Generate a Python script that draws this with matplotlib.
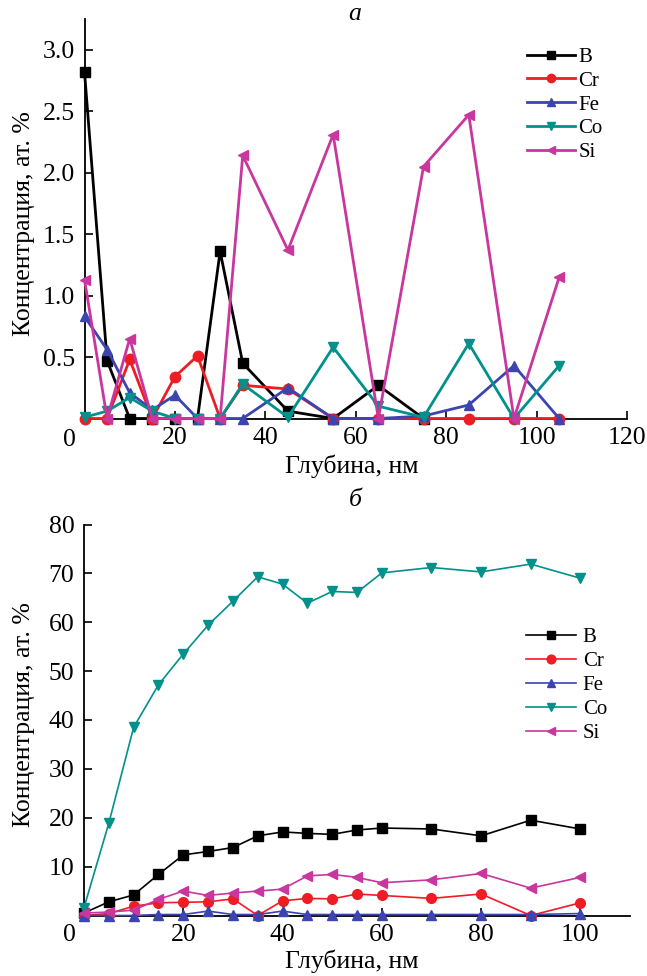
import matplotlib
matplotlib.use("Agg")
import matplotlib.pyplot as plt

plt.rcParams['font.family'] = ['Liberation Serif', 'DejaVu Serif']

# ---- panel a ----
x_a = [0, 5, 10, 15, 20, 25, 30, 35, 45, 55, 65, 75, 85, 95, 105]
x_a_B = [0, 5, 10, 15, 20, 25, 30, 35, 45, 55, 65, 75]
B_a = [2.82, 0.47, 0, 0, 0, 0, 1.36, 0.45, 0.06, 0, 0.27, 0]
Cr_a = [0, 0, 0.48, 0, 0.34, 0.51, 0, 0.27, 0.24, 0, 0, 0, 0, 0, 0]
Fe_a = [0.83, 0.56, 0.21, 0.07, 0.19, 0, 0, 0, 0.25, 0, 0, 0.02, 0.11, 0.43, 0]
Co_a = [0.01, 0.06, 0.17, 0.06, 0, 0, 0, 0.28, 0.01, 0.58, 0.10, 0.01, 0.61, 0, 0.43]
Si_a = [1.13, 0, 0.65, 0, 0, 0, 0, 2.14, 1.37, 2.31, 0, 2.05, 2.47, 0, 1.15]

# ---- panel b ----
x_b = [0, 5, 10, 15, 20, 25, 30, 35, 40, 45, 50, 55, 60, 70, 80, 90, 100]
B_b = [0.5, 2.8, 4.2, 8.4, 12.4, 13.1, 13.9, 16.3, 17.1, 16.8, 16.6, 17.5, 17.9, 17.7, 16.3, 19.5, 17.7]
Cr_b = [0, 0.4, 1.9, 2.6, 2.7, 2.8, 3.4, 0, 3.0, 3.5, 3.4, 4.4, 4.1, 3.5, 4.4, 0, 2.6]
Fe_b = [0, 0, 0, 0.2, 0.2, 0.9, 0.2, 0.2, 0.9, 0.2, 0.2, 0.2, 0.2, 0.2, 0.2, 0.2, 0.4]
Co_b = [1.6, 18.9, 38.5, 47.2, 53.5, 59.4, 64.3, 69.3, 67.8, 63.9, 66.3, 66.1, 70.1, 71.2, 70.3, 71.9, 69.0]
Si_b = [0.5, 0.7, 1.1, 3.3, 5.0, 4.1, 4.6, 5.0, 5.4, 8.1, 8.4, 7.8, 6.7, 7.3, 8.6, 5.6, 7.8]

labels = ['B', 'Cr', 'Fe', 'Co', 'Si']
colors = ['#000000', '#ee1c24', '#3c44b0', '#00918c', '#c8369e']
markers = ['s', 'o', '^', 'v', '<']

xticks_a = [0, 20, 40, 60, 80, 100, 120]
yticks_a = [0.5, 1.0, 1.5, 2.0, 2.5, 3.0]
xticks_b = [0, 20, 40, 60, 80, 100]
yticks_b = [10, 20, 30, 40, 50, 60, 70, 80]

W, H = 647, 976
fig = plt.figure(figsize=(W / 100, H / 100), dpi=100)

ax1 = fig.add_axes([84.5 / W, 1 - 418.5 / H, (627 - 84.5) / W, (418.5 - 19) / H])
ax2 = fig.add_axes([84 / W, 1 - 915.5 / H, (630 - 84) / W, (915.5 - 524.5) / H])

TICK_FS = 18.5
LAB_FS = 18.5

def style(ax, xt, yt, xlim, ylim, xfmt):
    ax.set_xlim(*xlim)
    ax.set_ylim(*ylim)
    for s in ['top', 'right']:
        ax.spines[s].set_visible(False)
    for s in ['left', 'bottom']:
        ax.spines[s].set_linewidth(1.3)
    ax.set_xticks(xt)
    ax.set_xticklabels([''] + [xfmt(v) for v in xt[1:]])
    ax.set_yticks(yt)
    ax.tick_params(direction='in', length=6, width=1.2, labelsize=TICK_FS)
    ax.tick_params(axis='x', pad=6)
    ax.tick_params(axis='y', pad=7)

# panel a
ys_a = [B_a, Cr_a, Fe_a, Co_a, Si_a]
for i, (lab, y) in enumerate(zip(labels, ys_a)):
    xx = x_a_B if lab == 'B' else x_a
    ax1.plot(xx, y, color=colors[i], marker=markers[i], lw=2.0, ms=7.5,
             label=lab, clip_on=False, zorder=3 + i)
style(ax1, xticks_a, yticks_a, (0, 120), (0, 3.25), lambda v: f'{v:d}')
ax1.set_yticklabels([f'{v:.1f}' for v in yticks_a])
leg1 = ax1.legend(loc='upper left', bbox_to_anchor=(517 / W, 1 - 37 / H),
                  bbox_transform=fig.transFigure, frameon=False, fontsize=15,
                  handlelength=2.3, handletextpad=0.15, labelspacing=0.2,
                  borderpad=0, markerscale=0.8)

# panel b
ys_b = [B_b, Cr_b, Fe_b, Co_b, Si_b]
for i, (lab, y) in enumerate(zip(labels, ys_b)):
    ax2.plot(x_b, y, color=colors[i], marker=markers[i], lw=1.2, ms=7,
             label=lab, clip_on=False, zorder=3 + i)
style(ax2, xticks_b, yticks_b, (0, 110), (0, 80), lambda v: f'{v:d}')
leg2 = ax2.legend(loc='upper left', bbox_to_anchor=(516 / W, 1 - 617 / H),
                  bbox_transform=fig.transFigure, frameon=False, fontsize=15,
                  handlelength=2.4, handletextpad=0.3, labelspacing=0.21,
                  borderpad=0, markerscale=0.9)

# corner zeros
fig.text(69 / W, 1 - 440 / H, '0', ha='center', va='center', fontsize=TICK_FS)
fig.text(69 / W, 1 - 935 / H, '0', ha='center', va='center', fontsize=TICK_FS)

# axis labels
ylab = 'Концентрация, ат. %'
fig.text(24 / W, 1 - 224 / H, ylab, rotation=90, ha='center', va='center', fontsize=LAB_FS)
fig.text(24 / W, 1 - 715 / H, ylab, rotation=90, ha='center', va='center', fontsize=LAB_FS)
xlab = 'Глубина, нм'
fig.text(352 / W, 1 - 466 / H, xlab, ha='center', va='center', fontsize=LAB_FS)
fig.text(352 / W, 1 - 961 / H, xlab, ha='center', va='center', fontsize=LAB_FS)

# panel letters
fig.text(355 / W, 1 - 14 / H, 'а', ha='center', va='center', fontsize=LAB_FS, style='italic')
fig.text(355 / W, 1 - 500 / H, 'б', ha='center', va='center', fontsize=LAB_FS, style='italic')

fig.savefig('out.png', dpi=100)
